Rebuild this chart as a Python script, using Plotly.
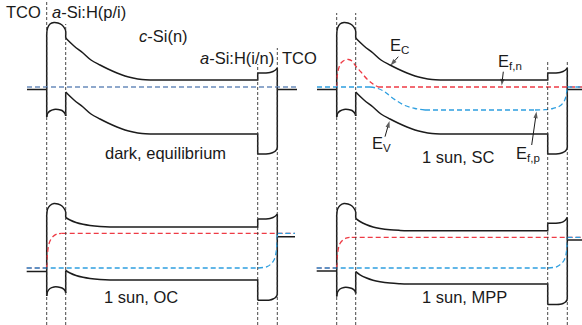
import plotly.graph_objects as go

W, H = 582, 325

# ---------------- data (positions in a.u., energies in a.u. relative to left-contact Fermi level) ----
layer_edges = [46.7, 65.7, 257.7, 277.3]          # TCO | a-Si(p/i) | c-Si(n) | a-Si(i/n) | TCO
aSi_pi_x = [46.7, 47.6, 50, 54, 58, 62, 65, 65.7]
aSi_in_x = [257.7, 266, 270, 273, 275.5, 277.3]

# dark equilibrium and 1 sun SC share the same band diagram
top_cSi_x = [65.7, 74, 83, 91, 100, 108, 117, 125, 133, 142, 150]
top_cb_pi = [53, 59, 63, 64.5, 64, 62, 58, 56]
top_vb_pi = [-30, -26.5, -24, -22.5, -22.5, -23.5, -26.5, -29]
top_cb_c = [49, 41, 34, 27, 22, 18, 14, 11, 9, 7.5, 7]
top_vb_c = [-5, -13, -20, -27, -32, -36, -40, -43, -45, -46.5, -47]
top_cb_in = [14, 14, 14.5, 15.5, 17, 19]
top_vb_in = [-67, -67, -66.5, -65.5, -64, -61]
top_metal = [-2.5, -2.5]
top_metal_x = [27, 297]

# 1 sun, OC
oc_cSi_x = [65.7, 70, 76, 83, 90, 100, 110, 120]
oc_cb_pi = [53, 59, 62.5, 64.5, 64, 62, 58, 56]
oc_vb_pi = [-28, -23.5, -20.5, -19, -19, -20, -22.5, -25]
oc_cb_c = [50.5, 48, 45.5, 43.7, 42.5, 41.5, 41, 41]
oc_vb_c = [-2.5, -5, -7.5, -9.3, -10.5, -11.5, -12, -12]
oc_cb_in = [49, 49, 49.5, 50.5, 52, 54]
oc_vb_in = [-32.3, -32.3, -32, -31, -29.5, -27]
oc_metal = [-3.5, 31.3]
oc_metal_x = [26.7, 295]

# 1 sun, MPP
mpp_cSi_x = [65.7, 70, 76, 83, 90, 100, 110, 120]
mpp_cb_pi = [53, 59, 62.5, 64.5, 64, 62, 58, 56]
mpp_vb_pi = [-28.5, -24, -21, -19.5, -19.5, -20.5, -23, -25.5]
mpp_cb_c = [49.7, 46.5, 43.5, 41, 39.5, 38.2, 37.6, 37.3]
mpp_vb_c = [-3.6, -6.8, -9.8, -12.3, -13.8, -15.1, -15.7, -16]
mpp_cb_in = [44.7, 44.7, 45.2, 46.2, 48, 50.5]
mpp_vb_in = [-36.5, -36.5, -36.3, -35.5, -34, -31.5]
mpp_metal = [-3, 28]
mpp_metal_x = [26.7, 292]

# quasi-Fermi levels
eq_ef_x = [27, 297]
eq_ef = [0, 0]

sc_efn_x = [46.7, 47, 48.5, 51, 55, 58.5, 62, 65.7, 71, 77, 83, 88]
sc_efn = [0, 9, 18, 24, 27, 27.5, 26, 21, 15, 8, 3, 0]
sc_efn_end = 292
sc_efp_start = 27
sc_efp_x1 = [80, 88, 95, 100, 107, 115, 125, 135]
sc_efp_1 = [0, -1.5, -5, -9, -14, -18.5, -21.5, -23]
sc_efp_x2 = [245, 255, 263, 269, 273, 275.5, 277.3]
sc_efp_2 = [-23, -22.7, -21.5, -19.5, -16, -11, 0]

rise_x = [46.7, 47.2, 48.3, 50, 53, 57, 61.7]
oc_efn = [0, 11, 21, 27, 31.5, 34, 34.7]
mpp_efn = [0, 10, 19, 24.5, 28, 30.2, 30.7]
bend_x = [258, 263, 267, 271, 274, 275.8, 276.8, 277.3]
oc_efp = [0, 0.5, 1.3, 4, 8, 14, 23, 34.7]
mpp_efp = [0, 0.5, 1.3, 4, 7.5, 12.5, 20, 30.7]

# ---------------- figure ----------------
BLACK = '#1c1c1c'
RED = '#ee3b45'
BLUE = '#2e9fe0'
EQ = '#6a8cbc'
FONT = 'Liberation Sans, Arial, sans-serif'

fig = go.Figure()

def axn(k):
    return ('x' if k == 1 else 'x%d' % k), ('y' if k == 1 else 'y%d' % k)

def seg(k, x, y, shape='linear', color=BLACK, width=1.5, dash='solid'):
    xa, ya = axn(k)
    fig.add_trace(go.Scatter(x=x, y=y, mode='lines', xaxis=xa, yaxis=ya,
                             line=dict(color=color, width=width, dash=dash, shape=shape,
                                       smoothing=1),
                             hoverinfo='skip', showlegend=False))

def draw_bands(k, cSi_x, cb_pi, vb_pi, cb_c, vb_c, cb_in, vb_in, metal, metal_x):
    e0, e1, e2, e3 = layer_edges
    seg(k, [e0, e0], [vb_pi[0], cb_pi[0]])
    seg(k, aSi_pi_x, cb_pi, 'spline')
    seg(k, [e1, e1], [cb_pi[-1], cb_c[0]])
    seg(k, cSi_x, cb_c, 'spline')
    seg(k, [cSi_x[-1], e2, e2], [cb_c[-1], cb_c[-1], cb_in[0]])
    seg(k, aSi_in_x, cb_in, 'spline')
    seg(k, [e3, e3], [cb_in[-1], vb_in[-1]])
    seg(k, aSi_in_x, vb_in, 'spline')
    seg(k, [e2, e2, cSi_x[-1]], [vb_in[0], vb_c[-1], vb_c[-1]])
    seg(k, cSi_x, vb_c, 'spline')
    seg(k, [e1, e1], [vb_c[0], vb_pi[-1]])
    seg(k, aSi_pi_x, vb_pi, 'spline')
    seg(k, [metal_x[0], e0], [metal[0], metal[0]])
    seg(k, [e3, metal_x[1]], [metal[1], metal[1]])

DASH = '5px,3px'
QW = 1.3

# panel 1: dark, equilibrium
draw_bands(1, top_cSi_x, top_cb_pi, top_vb_pi, top_cb_c, top_vb_c, top_cb_in, top_vb_in,
           top_metal, top_metal_x)
seg(1, eq_ef_x, eq_ef, color=EQ, width=QW, dash=DASH)

# panel 2: 1 sun, SC
draw_bands(2, top_cSi_x, top_cb_pi, top_vb_pi, top_cb_c, top_vb_c, top_cb_in, top_vb_in,
           top_metal, [27, 292])
seg(2, sc_efn_x, sc_efn, 'spline', RED, QW, DASH)
seg(2, [sc_efn_x[-1], sc_efn_end], [sc_efn[-1], sc_efn[-1]], color=RED, width=QW, dash=DASH)
seg(2, [sc_efp_start, sc_efp_x1[0]], [sc_efp_1[0], sc_efp_1[0]], color=BLUE, width=QW, dash=DASH)
seg(2, sc_efp_x1, sc_efp_1, 'spline', BLUE, QW, DASH)
seg(2, [sc_efp_x1[-1], sc_efp_x2[0]], [sc_efp_1[-1], sc_efp_2[0]], color=BLUE, width=QW, dash=DASH)
seg(2, sc_efp_x2, sc_efp_2, 'spline', BLUE, QW, DASH)
seg(2, [sc_efp_x2[-1], sc_efn_end], [sc_efp_2[-1], sc_efp_2[-1]], color=BLUE, width=QW, dash=DASH)

def draw_qfl(k, efn, efp, metal_x):
    x0, x1 = metal_x
    seg(k, [x0, rise_x[0]], [efn[0], efn[0]], color=RED, width=QW, dash=DASH)
    seg(k, rise_x, efn, 'spline', RED, QW, DASH)
    seg(k, [rise_x[-1], x1], [efn[-1], efn[-1]], color=RED, width=QW, dash=DASH)
    seg(k, [x0, bend_x[0]], [efp[0], efp[0]], color=BLUE, width=QW, dash=DASH)
    seg(k, bend_x, efp, 'spline', BLUE, QW, DASH)
    seg(k, [bend_x[-1], x1], [efp[-1], efp[-1]], color=BLUE, width=QW, dash=DASH)

# panel 3: 1 sun, OC
draw_bands(3, oc_cSi_x, oc_cb_pi, oc_vb_pi, oc_cb_c, oc_vb_c, oc_cb_in, oc_vb_in,
           oc_metal, oc_metal_x)
draw_qfl(3, oc_efn, oc_efp, oc_metal_x)

# panel 4: 1 sun, MPP
draw_bands(4, mpp_cSi_x, mpp_cb_pi, mpp_vb_pi, mpp_cb_c, mpp_vb_c, mpp_cb_in, mpp_vb_in,
           mpp_metal, mpp_metal_x)
draw_qfl(4, mpp_efn, mpp_efp, mpp_metal_x)

# ---------------- axes layout ----------------
col1 = dict(domain=[0, 300 / W], range=[0, 300])
col2 = dict(domain=[290 / W, 1], range=[0, 292])
row1 = dict(domain=[0.5, 1], range=[-75.5, 87])
row2 = dict(domain=[0, 0.5], range=[-57, 105.5])
hid = dict(visible=False, showgrid=False, zeroline=False, fixedrange=True)

fig.update_layout(
    width=W, height=H, margin=dict(l=0, r=0, t=0, b=0),
    paper_bgcolor='white', plot_bgcolor='rgba(0,0,0,0)',
    xaxis=dict(**col1, anchor='y', **hid), yaxis=dict(**row1, anchor='x', **hid),
    xaxis2=dict(**col2, anchor='y2', **hid), yaxis2=dict(**row1, anchor='x2', **hid),
    xaxis3=dict(**col1, anchor='y3', **hid), yaxis3=dict(**row2, anchor='x3', **hid),
    xaxis4=dict(**col2, anchor='y4', **hid), yaxis4=dict(**row2, anchor='x4', **hid),
    font=dict(family=FONT, size=16.5, color='#1a1a1a'),
)

# vertical dashed interface lines (through both rows)
col_tops = {'x': [0, 24, 64, 48], 'x2': [13, 13, 60, 60]}
shapes = []
for xr, tops in col_tops.items():
    for xe, tp in zip(layer_edges, tops):
        shapes.append(dict(type='line', xref=xr, yref='paper', x0=xe, x1=xe,
                           y0=0, y1=1 - tp / H,
                           line=dict(color='#333333', width=0.9, dash='3px,2px')))
fig.update_layout(shapes=shapes)

# ---------------- text ----------------
def txt(k, x, y, s, xanchor='center', size=16.5):
    xa, ya = axn(k)
    fig.add_annotation(x=x, y=y, xref=xa, yref=ya, text=s, showarrow=False,
                       xanchor=xanchor, yanchor='middle',
                       font=dict(family=FONT, size=size, color='#1a1a1a'))

def arrow(k, x0, y0, x1, y1):
    xa, ya = axn(k)
    fig.add_trace(go.Scatter(x=[x0, x1], y=[y0, y1], mode='lines+markers',
                             xaxis=xa, yaxis=ya,
                             line=dict(color='#1a1a1a', width=1),
                             marker=dict(symbol=['circle', 'arrow'], size=[0, 7],
                                         angleref='previous', color='#1a1a1a',
                                         line=dict(width=0)),
                             hoverinfo='skip', showlegend=False, cliponaxis=False))

txt(1, 23, 75, 'TCO')
txt(1, 88.5, 75, '<i>a</i>-Si:H(p/i)')
txt(1, 163.5, 51, '<i>c</i>-Si(n)')
txt(1, 236.5, 29, '<i>a</i>-Si:H(i/n)')
txt(1, 299.5, 29, 'TCO')
txt(1, 165, -66, 'dark, equilibrium')

txt(2, 98, 41, 'E<sub>C</sub>', 'left')
arrow(2, 108.3, 30.3, 100.5, 21.5)
txt(2, 206, 25, 'E<sub>f,n</sub>', 'left')
arrow(2, 213.3, 15.3, 211.7, 1.5)
txt(2, 80, -57, 'E<sub>V</sub>', 'left')
arrow(2, 95, -49.7, 99.5, -34)
txt(2, 224, -67, 'E<sub>f,p</sub>', 'left')
arrow(2, 241.7, -58, 246.5, -24.5)
txt(2, 168.3, -69.7, '1 sun, SC')

txt(3, 140.8, -29, '1 sun, OC')
txt(4, 174, -28.7, '1 sun, MPP')

fig.write_html('out.html')
